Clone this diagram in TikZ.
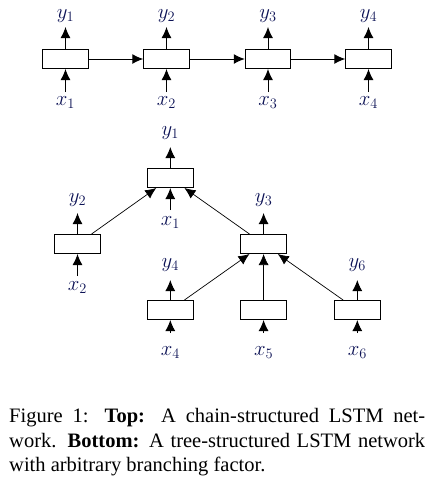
\documentclass[tikz,border=0pt]{standalone}
\usepackage[no-math]{fontspec}
\setmainfont{Liberation Serif}
\usetikzlibrary{arrows.meta}
\definecolor{labcol}{RGB}{12,18,85}
\begin{document}
\begin{tikzpicture}[x=1pt,y=-1pt,
  cell/.style={draw, line width=1pt, minimum width=45.5pt, minimum height=19pt, inner sep=0pt},
  lab/.style={text=labcol, font=\fontsize{20}{24}\selectfont, inner sep=0pt, anchor=base},
  io/.style={-{Latex[length=11pt,width=10pt]}, line width=1pt},
  edge/.style={-{Latex[length=11pt,width=10pt]}, line width=0.7pt}]
\useasboundingbox (0,0) rectangle (431,483);
% ---------- chain ----------
\foreach \i/\x in {1/65.5,2/166.5,3/268,4/368.5}{
  \node[cell] (b\i) at (\x,59) {};
  \coordinate (b\i y) at (\x,27);
  \coordinate (b\i x) at (\x,92);
  \node[lab] (ly\i) at (\x,18.5) {$y_{\i}$};
  \node[lab] (lx\i) at (\x,105) {$x_{\i}$};
  \draw[io] (b\i.north) -- (b\i y);
  \draw[io] (b\i x) -- (b\i.south);
}
\draw[io] (b1) -- (b2);
\draw[io] (b2) -- (b3);
\draw[io] (b3) -- (b4);
% ---------- tree ----------
\node[cell] (r1) at (170.3,178) {};
\node[cell] (n2) at (77.5,244) {};
\node[cell] (n3) at (263.6,244) {};
\node[cell] (n4) at (170.3,310) {};
\node[cell] (n5) at (263.6,310) {};
\node[cell] (n6) at (357.3,310) {};
% outputs
\coordinate (r1y) at (170.3,147);
\coordinate (n2y) at (77.5,213);
\coordinate (n3y) at (263.6,213);
\coordinate (n4y) at (170.3,280);
\coordinate (n6y) at (357.3,280);
\draw[io] (r1.north) -- (r1y);
\draw[io] (n2.north) -- (n2y);
\draw[io] (n3.north) -- (n3y);
\draw[io] (n4.north) -- (n4y);
\draw[io] (n6.north) -- (n6y);
\node[lab] (ty1) at (170.3,135.7) {$y_1$};
\node[lab] (ty2) at (77.5,202.3) {$y_2$};
\node[lab] (ty3) at (263.6,202.3) {$y_3$};
\node[lab] (ty4) at (170.3,267.5) {$y_4$};
\node[lab] (ty6) at (357.3,267.5) {$y_6$};
% inputs
\coordinate (r1x) at (170.3,210);
\coordinate (n2x) at (77.5,276);
\coordinate (n4x) at (170.3,333);
\coordinate (n5x) at (263.6,333);
\coordinate (n6x) at (357.3,333);
\draw[io] (r1x) -- (r1.south);
\draw[io] (n2x) -- (n2.south);
\draw[io] (n4x) -- (n4.south);
\draw[io] (n5x) -- (n5.south);
\draw[io] (n6x) -- (n6.south);
\node[lab] (tx1) at (170.3,225.7) {$x_1$};
\node[lab] (tx2) at (77.5,290.7) {$x_2$};
\node[lab] (tx4) at (170.3,355) {$x_4$};
\node[lab] (tx5) at (263.6,355) {$x_5$};
\node[lab] (tx6) at (357.3,355) {$x_6$};
% tree edges
\draw[edge] (n2) -- (r1);
\draw[edge] (n3) -- (r1);
\draw[edge] (n4) -- (n3);
\draw[edge] (n5) -- (n3);
\draw[edge] (n6) -- (n3);
% ---------- caption ----------
\node[anchor=north west, text width=416pt, align=justify, inner sep=0pt,
      font=\fontsize{20.5}{24.6}\selectfont] (cap) at (9,408)
  {Figure 1: \textbf{Top:} A chain-structured LSTM net-\linebreak
   work. \textbf{Bottom:} A tree-structured LSTM network\linebreak
   with arbitrary branching factor.};
\end{tikzpicture}
\end{document}
